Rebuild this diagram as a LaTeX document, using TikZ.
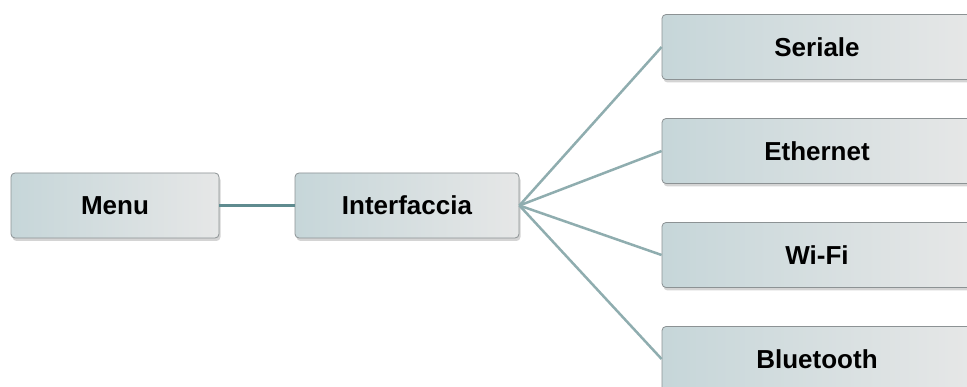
\documentclass[tikz,border=0pt]{standalone}
\usepackage{fontspec}
\setmainfont{Liberation Sans}
\usetikzlibrary{shadows}
\definecolor{boxleft}{HTML}{C6D6D9}
\definecolor{boxright}{HTML}{E6E7E7}
\definecolor{boxborder}{HTML}{8C9294}
\definecolor{fanline}{HTML}{8FADAF}
\definecolor{mainline}{HTML}{5F8B8F}
\tikzset{
  menubox/.style={draw=boxborder, line width=0.8pt, rounded corners=4pt,
    left color=boxleft, right color=boxright, shading angle=90,
    minimum height=65pt, inner sep=0pt,
    font=\fontsize{26}{30}\selectfont\bfseries,
    drop shadow={opacity=0.3, shadow xshift=1.5pt, shadow yshift=-3pt, fill=black!55}},
  fan/.style={draw=fanline, line width=2.5pt},
  link/.style={draw=mainline, line width=3pt}
}
\begin{document}
\begin{tikzpicture}[x=1pt,y=-1pt]
\useasboundingbox (0,0) rectangle (967,387);
\clip (0,0) rectangle (967,387);
\fill[white] (0,0) rectangle (967,387);
\node[menubox, minimum width=208pt] (menu) at (115,205.5) {Menu};
\node[menubox, minimum width=224pt] (intf) at (407,205.5) {Interfaccia};
\node[menubox, minimum width=310pt] (ser) at (817,47) {Seriale};
\node[menubox, minimum width=310pt] (eth) at (817,151) {Ethernet};
\node[menubox, minimum width=310pt] (wifi) at (817,255) {Wi-Fi};
\node[menubox, minimum width=310pt] (bt) at (817,359) {Bluetooth};
\draw[link] (menu.east) -- (intf.west);
\draw[fan] (intf.east) -- (ser.west);
\draw[fan] (intf.east) -- (eth.west);
\draw[fan] (intf.east) -- (wifi.west);
\draw[fan] (intf.east) -- (bt.west);
\end{tikzpicture}
\end{document}
